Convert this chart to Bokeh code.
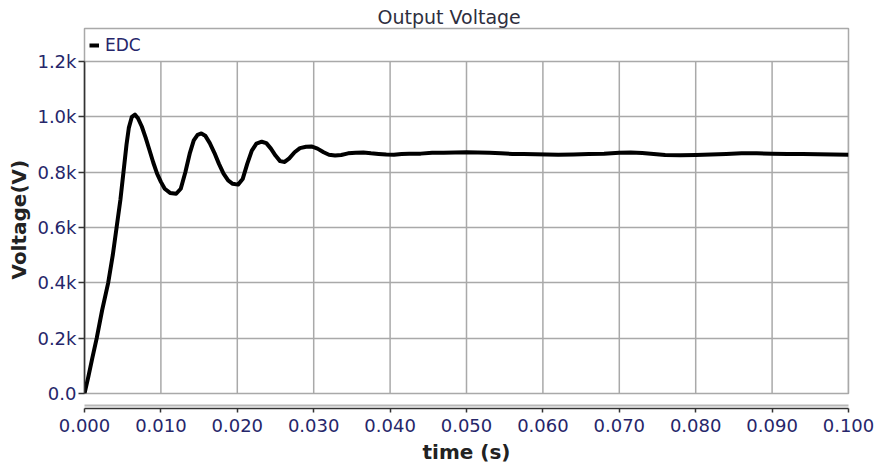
from bokeh.plotting import figure
from bokeh.models import (LinearAxis, FixedTicker, Range1d, Legend, LegendItem, Grid, Title)
from bokeh.embed import file_html
from bokeh.resources import INLINE

# ---- data ----
time_s = [0.0000, 0.0005, 0.0010, 0.0016, 0.0023, 0.0031, 0.0037, 0.0042, 0.0047, 0.0051,
          0.0055, 0.0058, 0.0062, 0.0066, 0.0070, 0.0075, 0.0080, 0.0085, 0.0090, 0.0095,
          0.0100, 0.0105, 0.0112, 0.0120, 0.0126, 0.0132, 0.0138, 0.0143, 0.0148, 0.0153,
          0.0158, 0.0164, 0.0170, 0.0176, 0.0182, 0.0188, 0.0194, 0.0201, 0.0207, 0.0213,
          0.0219, 0.0225, 0.0232, 0.0238, 0.0244, 0.0250, 0.0256, 0.0262, 0.0268, 0.0275,
          0.0282, 0.0290, 0.0297, 0.0305, 0.0313, 0.0320, 0.0328, 0.0336, 0.0345, 0.0355,
          0.0365, 0.0375, 0.0385, 0.0395, 0.0405, 0.0415, 0.0425, 0.0440, 0.0455, 0.0470,
          0.0485, 0.0500, 0.0515, 0.0530, 0.0545, 0.0560, 0.0575, 0.0590, 0.0605, 0.0620,
          0.0640, 0.0660, 0.0680, 0.0700, 0.0715, 0.0730, 0.0745, 0.0760, 0.0780, 0.0800,
          0.0820, 0.0840, 0.0860, 0.0880, 0.0900, 0.0920, 0.0940, 0.0960, 0.0980, 0.1000]
voltage_v = [0, 60, 125, 200, 300, 400, 500, 600, 700, 800,
             900, 960, 1000, 1008, 995, 965, 925, 880, 835, 795,
             765, 740, 725, 722, 740, 800, 870, 915, 935, 940,
             932, 905, 870, 830, 795, 770, 758, 755, 775, 830,
             878, 903, 910, 905, 885, 860, 840, 837, 850, 872,
             887, 892, 893, 885, 872, 863, 860, 862, 868, 870,
             871, 868, 866, 864, 863, 866, 867, 867, 870, 870,
             871, 872, 871, 870, 868, 866, 866, 865, 864, 863,
             864, 866, 867, 870, 871, 869, 866, 862, 861, 862,
             864, 866, 868, 868, 867, 866, 866, 865, 864, 863]

x_ticks = [0.0, 0.01, 0.02, 0.03, 0.04, 0.05, 0.06, 0.07, 0.08, 0.09, 0.1]
x_tick_labels = ["0.000", "0.010", "0.020", "0.030", "0.040", "0.050",
                 "0.060", "0.070", "0.080", "0.090", "0.100"]
y_ticks = [0, 200, 400, 600, 800, 1000, 1200]
y_tick_labels = ["0.0", "0.2k", "0.4k", "0.6k", "0.8k", "1.0k", "1.2k"]

series_name = "EDC"
title_text = "Output Voltage"
x_title = "time (s)"
y_title = "Voltage(V)"

FONT = "DejaVu Sans"
TICK_COLOR = "#26266a"
GRID_COLOR = "#a9a9a9"

# frame spans y = 28..393 px; the 0..1200 scale occupies the lower 332 px,
# the strip above 1.2k holds the legend (as in the reference)
Y_TOP = 1200 * 365 / 332

p = figure(width=880, height=470, output_backend="svg", toolbar_location=None,
           x_range=Range1d(0, 0.1), y_range=Range1d(0, Y_TOP),
           x_axis_location=None, y_axis_location=None,
           min_border_left=83, min_border_right=32, min_border_top=28, min_border_bottom=77)
p.background_fill_color = "white"
p.border_fill_color = "white"
p.outline_line_color = GRID_COLOR
p.outline_line_width = 1.5

# drop the default grids, then add our own
p.grid.visible = False
p.add_layout(Grid(dimension=1, ticker=FixedTicker(ticks=y_ticks),
                  grid_line_color=GRID_COLOR, grid_line_width=1.5))
# vertical grid lines only over the 0..1200 band
n = len(x_ticks)
p.segment(x0=x_ticks, y0=[y_ticks[0]] * n, x1=x_ticks, y1=[y_ticks[-1]] * n,
          line_color=GRID_COLOR, line_width=1.5, level="underlay")

# title
p.title.text = title_text
p.title.align = "left"
p.title.offset = 293
p.title.text_font = FONT
p.title.text_font_size = "19px"
p.title.text_font_style = "normal"
p.title.text_color = "#2e2e3e"
p.title.standoff = 2

# spacers below the frame so the x axis sits lower (second one draws the gray rule)
spacer1 = LinearAxis(ticker=FixedTicker(ticks=[0.05]), axis_line_color=None,
                     major_tick_line_color=None, minor_tick_line_color=None,
                     major_tick_in=0, major_tick_out=12, major_label_standoff=0,
                     major_label_overrides={0.05: ""},
                     major_label_text_font_size="1px", major_label_text_alpha=0)
p.add_layout(spacer1, "below")
spacer2 = LinearAxis(ticker=FixedTicker(ticks=[0.05]), axis_line_color="#b8b8b8",
                     axis_line_width=2,
                     major_tick_line_color=None, minor_tick_line_color=None,
                     major_tick_in=0, major_tick_out=3, major_label_standoff=0,
                     major_label_overrides={0.05: ""},
                     major_label_text_font_size="1px", major_label_text_alpha=0)
p.add_layout(spacer2, "below")

xaxis = LinearAxis(ticker=FixedTicker(ticks=x_ticks),
                   major_label_overrides=dict(zip(x_ticks, x_tick_labels)),
                   axis_label=x_title)
p.add_layout(xaxis, "below")

yaxis = LinearAxis(ticker=FixedTicker(ticks=y_ticks), bounds=(0, 1200),
                   major_label_overrides=dict(zip(y_ticks, y_tick_labels)))
p.add_layout(yaxis, "left")

for ax in (xaxis, yaxis):
    ax.axis_line_color = "#333333"
    ax.axis_line_width = 1.5
    ax.major_tick_line_color = "#333333"
    ax.major_tick_line_width = 1.5
    ax.minor_tick_line_color = None
    ax.major_tick_in = 0
    ax.major_label_text_font = FONT
    ax.major_label_text_font_size = "18px"
    ax.major_label_text_color = TICK_COLOR
    ax.axis_label_text_font = FONT
    ax.axis_label_text_font_size = "20px"
    ax.axis_label_text_font_style = "bold"
    ax.axis_label_text_color = "#222222"

xaxis.major_tick_out = 4
xaxis.major_label_standoff = 6
xaxis.axis_label_standoff = 5
yaxis.major_tick_out = 6
yaxis.major_label_standoff = 2

# y-axis title, centred on the 0..1200 band
ytitle = Title(text=y_title, align="left", offset=114, standoff=8,
               text_font=FONT, text_font_size="20px", text_font_style="bold",
               text_color="#222222")
p.add_layout(ytitle, "left")

r = p.line(time_s, voltage_v, line_color="black", line_width=4, line_join="round")

legend = Legend(items=[LegendItem(label=series_name, renderers=[r])],
                location=(5, 338), orientation="horizontal",
                border_line_color=None, background_fill_alpha=0,
                margin=0, padding=2, spacing=0,
                glyph_width=10, glyph_height=18, label_height=18, label_standoff=6,
                label_text_font=FONT, label_text_font_size="17px",
                label_text_color="#26266a")
p.add_layout(legend, "center")

open("out.html", "w").write(file_html(p, INLINE))
